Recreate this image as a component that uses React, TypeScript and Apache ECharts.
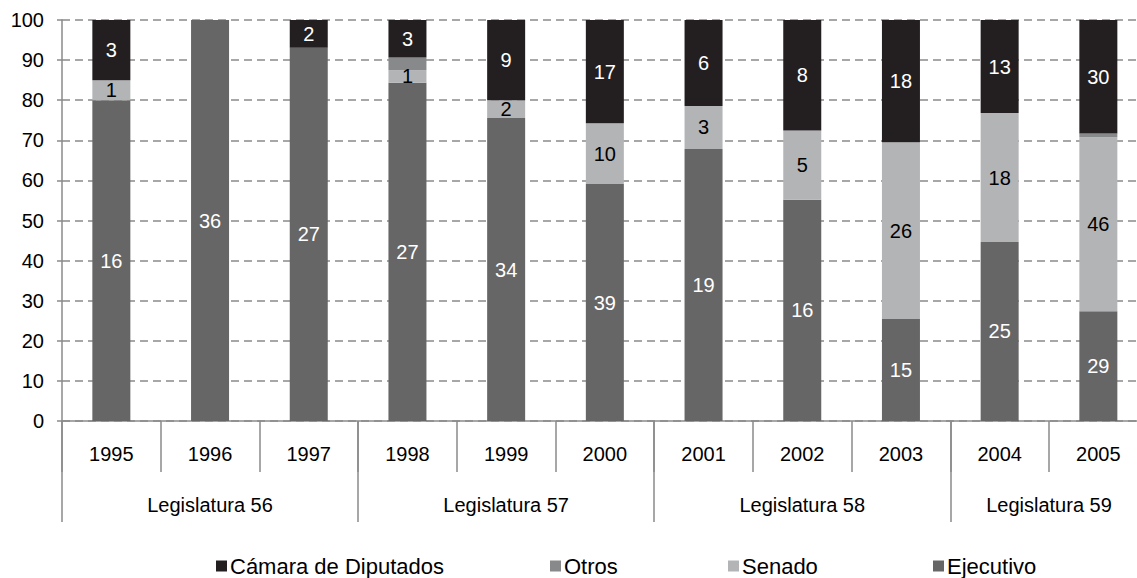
import React, { useEffect, useRef } from "react";
import * as echarts from "echarts";

const years = ["1995", "1996", "1997", "1998", "1999", "2000", "2001", "2002", "2003", "2004", "2005"];
const legislaturas = ["Legislatura 56", "Legislatura 57", "Legislatura 58", "Legislatura 59"];
const legislaturaSizes = [3, 3, 3, 2];

const ejecutivo = [16, 36, 27, 27, 34, 39, 19, 16, 15, 25, 29];
const senado = [1, 0, 0, 1, 2, 10, 3, 5, 26, 18, 46];
const otros = [0, 0, 0, 1, 0, 0, 0, 0, 0, 0, 1];
const camara = [3, 0, 2, 3, 9, 17, 6, 8, 18, 13, 30];

const yTicks = [0, 10, 20, 30, 40, 50, 60, 70, 80, 90, 100];

const FONT = "'Liberation Sans', Arial, sans-serif";
const GRAY = "#8a8a8a";

export default function App() {
  const ref = useRef<HTMLDivElement>(null);

  useEffect(() => {
    const chart = echarts.init(ref.current!, null, { renderer: "svg" });

    const totals = years.map((_, i) => ejecutivo[i] + senado[i] + otros[i] + camara[i]);

    const bounds: number[] = [0];
    const centers: number[] = [];
    legislaturaSizes.forEach((s) => {
      const start = bounds[bounds.length - 1];
      centers.push(start + s / 2);
      bounds.push(start + s);
    });

    const mk = (name: string, raw: number[], color: string, labelColor: string | null) => ({
      name,
      type: "bar",
      stack: "total",
      barWidth: 38,
      itemStyle: { color },
      data: raw.map((v, i) => ({
        value: (v / totals[i]) * 100,
        label: { show: labelColor !== null && v > 0 },
      })),
      label: {
        show: labelColor !== null,
        position: "inside",
        color: labelColor || "#000",
        fontSize: 20,
        fontFamily: FONT,
        formatter: (p: any) => String(raw[p.dataIndex]),
      },
    });

    const legendPos: [string, number][] = [
      ["Cámara de Diputados", 216],
      ["Otros", 550],
      ["Senado", 728],
      ["Ejecutivo", 933],
    ];

    chart.setOption({
      animation: false,
      backgroundColor: "#ffffff",
      textStyle: { fontFamily: FONT },
      grid: {
        left: 62,
        top: 20,
        width: 1085.7,
        height: 401,
        containLabel: false,
        outerBoundsMode: "none",
      },
      legend: legendPos.map(([name, left]) => ({
        data: [name],
        left,
        top: 555,
        padding: 0,
        itemWidth: 11,
        itemHeight: 11,
        icon: "rect",
        selectedMode: false,
        textStyle: { fontSize: 22, color: "#000", fontFamily: FONT, padding: [0, 0, 0, -2] },
      })),
      xAxis: [
        {
          type: "category",
          data: years,
          position: "bottom",
          axisLine: { show: true, lineStyle: { color: GRAY, width: 1.5 } },
          axisTick: {
            show: true,
            interval: 0,
            alignWithLabel: false,
            length: 51,
            lineStyle: { color: GRAY, width: 1.5 },
          },
          axisLabel: { interval: 0, fontSize: 20, color: "#000", margin: 23, fontFamily: FONT },
          splitLine: { show: false },
        },
        {
          type: "value",
          min: 0,
          max: years.length,
          position: "bottom",
          axisLine: { show: false },
          axisTick: {
            show: true,
            customValues: bounds,
            length: 101,
            lineStyle: { color: GRAY, width: 1.5 },
          },
          axisLabel: {
            show: true,
            customValues: centers,
            fontSize: 20,
            color: "#000",
            margin: 74,
            fontFamily: FONT,
            formatter: (v: number) => {
              const idx = centers.findIndex((c) => Math.abs(c - v) < 1e-6);
              return idx >= 0 ? legislaturas[idx] : "";
            },
          },
          splitLine: { show: false },
        },
      ],
      yAxis: {
        type: "value",
        min: yTicks[0],
        max: yTicks[yTicks.length - 1],
        interval: 10,
        axisLine: { show: true, lineStyle: { color: GRAY, width: 1.5 } },
        axisTick: { show: true, length: 5, lineStyle: { color: GRAY, width: 1.5 } },
        axisLabel: { fontSize: 20, color: "#000", margin: 18, fontFamily: FONT },
        splitLine: { show: true, lineStyle: { color: GRAY, width: 1.5, type: [8, 5] } },
      },
      series: [
        mk("Ejecutivo", ejecutivo, "#666666", "#ffffff"),
        mk("Senado", senado, "#b3b4b6", "#000000"),
        mk("Otros", otros, "#88898b", null),
        mk("Cámara de Diputados", camara, "#231f20", "#ffffff"),
      ],
    });

    return () => chart.dispose();
  }, []);

  return (
    <div
      ref={ref}
      style={{ position: "absolute", left: 0, top: 0, width: 1137, height: 578 }}
    />
  );
}
